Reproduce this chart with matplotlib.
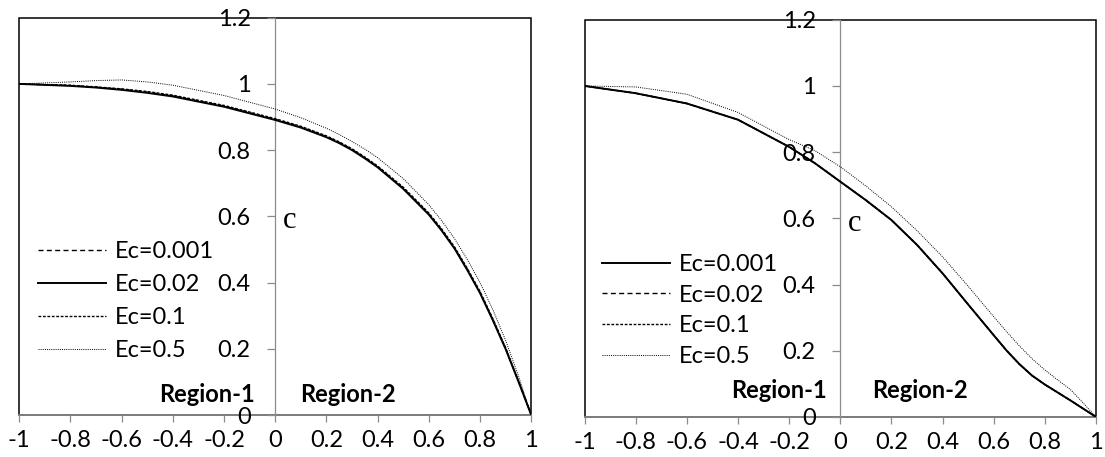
import matplotlib
matplotlib.use('Agg')
import matplotlib.pyplot as plt
from matplotlib.patches import Rectangle

plt.rcParams['axes.unicode_minus'] = False
plt.rcParams['font.family'] = ['Lato', 'DejaVu Sans']

# ---------------- data ----------------
ec_labels = ['Ec=0.001', 'Ec=0.02', 'Ec=0.1', 'Ec=0.5']

x_left = [-1, -0.8, -0.7, -0.6, -0.5, -0.4, -0.2, 0, 0.1, 0.2, 0.25, 0.3, 0.35, 0.4, 0.5, 0.6, 0.65, 0.7, 0.75, 0.8, 0.85, 0.9, 0.95, 1]
c_left_0001 = [1.0, 0.995, 0.990, 0.984, 0.975, 0.964, 0.933, 0.893, 0.870, 0.841, 0.823, 0.802, 0.777, 0.750, 0.685, 0.607, 0.559, 0.505, 0.440, 0.370, 0.288, 0.200, 0.102, 0.0]
c_left_002 = [1.0, 0.994, 0.989, 0.982, 0.973, 0.962, 0.931, 0.891, 0.868, 0.839, 0.821, 0.800, 0.775, 0.748, 0.683, 0.605, 0.557, 0.503, 0.438, 0.368, 0.286, 0.199, 0.101, 0.0]
c_left_01 = [1.0, 0.996, 0.991, 0.985, 0.977, 0.966, 0.935, 0.895, 0.872, 0.843, 0.825, 0.804, 0.779, 0.752, 0.688, 0.610, 0.562, 0.508, 0.443, 0.373, 0.291, 0.203, 0.103, 0.0]
c_left_05 = [1.0, 1.006, 1.010, 1.012, 1.006, 0.996, 0.965, 0.924, 0.898, 0.866, 0.847, 0.826, 0.803, 0.777, 0.714, 0.635, 0.587, 0.533, 0.470, 0.400, 0.318, 0.225, 0.118, 0.0]

x_right = [-1, -0.8, -0.6, -0.4, -0.2, -0.1, 0, 0.1, 0.2, 0.3, 0.4, 0.5, 0.6, 0.65, 0.7, 0.75, 0.8, 0.85, 0.9, 0.95, 1]
c_right_0001 = [1.0, 0.978, 0.947, 0.898, 0.816, 0.767, 0.711, 0.655, 0.595, 0.520, 0.434, 0.340, 0.247, 0.201, 0.160, 0.125, 0.098, 0.074, 0.050, 0.025, 0.0]
c_right_002 = [1.0, 0.978, 0.947, 0.898, 0.816, 0.767, 0.711, 0.655, 0.595, 0.520, 0.434, 0.340, 0.247, 0.201, 0.160, 0.125, 0.098, 0.074, 0.050, 0.025, 0.0]
c_right_01 = [1.0, 0.978, 0.947, 0.898, 0.816, 0.767, 0.711, 0.655, 0.595, 0.520, 0.434, 0.340, 0.247, 0.201, 0.160, 0.125, 0.098, 0.074, 0.050, 0.025, 0.0]
c_right_05 = [1.0, 0.997, 0.975, 0.920, 0.838, 0.805, 0.756, 0.698, 0.635, 0.563, 0.484, 0.395, 0.303, 0.258, 0.215, 0.176, 0.142, 0.112, 0.083, 0.042, 0.0]

x_ticks = [-1, -0.8, -0.6, -0.4, -0.2, 0, 0.2, 0.4, 0.6, 0.8, 1]
x_ticklabels = ['-1', '-0.8', '-0.6', '-0.4', '-0.2', '0', '0.2', '0.4', '0.6', '0.8', '1']
y_ticks = [0, 0.2, 0.4, 0.6, 0.8, 1.0, 1.2]
y_ticklabels = ['0', '0.2', '0.4', '0.6', '0.8', '1', '1.2']

# ---------------- styles ----------------
GRAY = '#8c8c8c'
FS = 17
st_solid = dict(color='black', lw=1.4, linestyle='-')
st_dash = dict(color='black', lw=1.0, linestyle=(0, (3.6, 2.4)))
st_short = dict(color='black', lw=1.0, linestyle=(0, (2.0, 1.2)))
st_dot = dict(color='black', lw=0.7, linestyle=(0, (1.0, 1.2)))

fig = plt.figure(figsize=(11.05, 4.57), dpi=100)
axL = fig.add_axes([0.01747, 0.0919, 0.4633, 0.8694])
axR = fig.add_axes([0.5290, 0.0877, 0.4628, 0.8691])


def style_axes(ax):
    ax.set_xlim(-1, 1)
    ax.set_ylim(0, 1.2)
    ax.spines['left'].set_position(('data', 0))
    ax.spines['left'].set_color(GRAY)
    ax.spines['left'].set_linewidth(0.9)
    ax.spines['bottom'].set_color(GRAY)
    ax.spines['bottom'].set_linewidth(1.2)
    ax.spines['top'].set_visible(False)
    ax.spines['right'].set_visible(False)
    ax.add_patch(Rectangle((0, 0), 1, 1, transform=ax.transAxes, fill=False,
                           edgecolor='black', lw=1.1, zorder=1, clip_on=False))
    ax.set_xticks(x_ticks)
    ax.set_xticklabels(x_ticklabels)
    ax.set_yticks(y_ticks)
    ax.set_yticklabels(y_ticklabels)
    ax.tick_params(axis='y', direction='out', length=5.8, width=0.9, color=GRAY,
                   pad=12, labelsize=FS)
    ax.tick_params(axis='x', direction='out', length=5, width=0.9, color=GRAY,
                   pad=6, labelsize=FS)
    for sp in ['left', 'bottom']:
        ax.spines[sp].set_zorder(1.5)


style_axes(axL)
style_axes(axR)

# left panel
axL.plot(x_left, c_left_0001, label=ec_labels[0], **st_dash)
axL.plot(x_left, c_left_002, label=ec_labels[1], **st_solid)
axL.plot(x_left, c_left_01, label=ec_labels[2], **st_short)
axL.plot(x_left, c_left_05, label=ec_labels[3], **st_dot)

# right panel
axR.plot(x_right, c_right_0001, label=ec_labels[0], **st_solid)
axR.plot(x_right, c_right_002, label=ec_labels[1], **st_dash)
axR.plot(x_right, c_right_01, label=ec_labels[2], **st_short)
axR.plot(x_right, c_right_05, label=ec_labels[3], **st_dot)

axL.legend(loc='upper left', bbox_to_anchor=(0.036, 0.437), frameon=False,
           fontsize=FS, handlelength=2.9, handletextpad=0.35, labelspacing=0.5,
           borderpad=0, borderaxespad=0)
axR.legend(loc='upper left', bbox_to_anchor=(0.0334, 0.41), frameon=False,
           fontsize=FS, handlelength=2.9, handletextpad=0.38, labelspacing=0.41,
           borderpad=0, borderaxespad=0)

# annotations
axL.text(-0.079, 0.04, 'Region-1', ha='right', va='baseline', fontsize=FS, fontweight='bold')
axL.text(0.096, 0.04, 'Region-2', ha='left', va='baseline', fontsize=FS, fontweight='bold')
axR.text(-0.053, 0.056, 'Region-1', ha='right', va='baseline', fontsize=FS, fontweight='bold')
axR.text(0.125, 0.056, 'Region-2', ha='left', va='baseline', fontsize=FS, fontweight='bold')
axL.text(0.03, 0.586, 'c', ha='left', va='center', fontsize=22, family='Liberation Serif')
axR.text(0.031, 0.585, 'c', ha='left', va='center', fontsize=22, family='Liberation Serif')

fig.savefig('out.png', dpi=100)
